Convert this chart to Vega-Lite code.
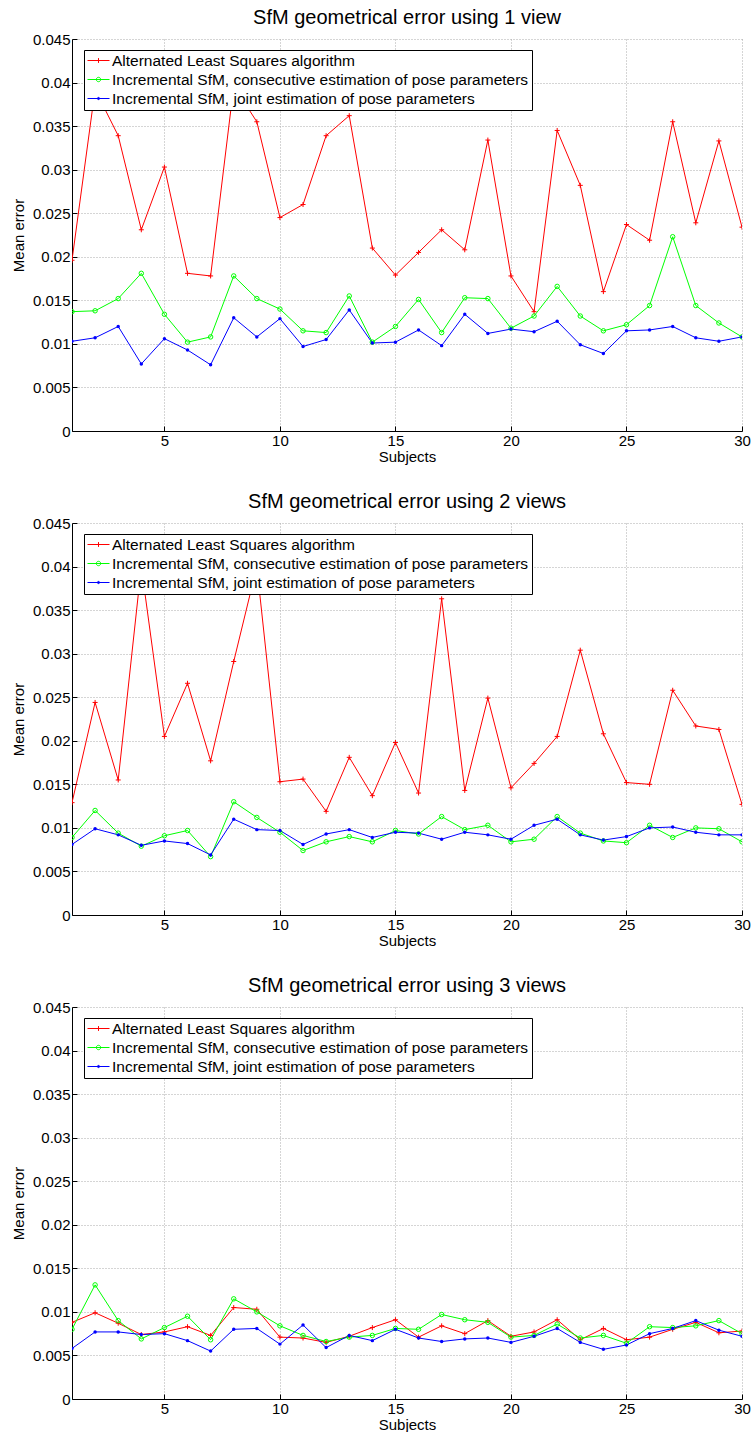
{
  "$schema": "https://vega.github.io/schema/vega-lite/v6.json",
  "padding": {"left": 11, "top": 8, "right": 0, "bottom": 0},
  "background": "white",
  "spacing": 28,
  "datasets": {
    "errors": [
      {"v":1,"s":1,"als":0.0196,"cons":0.0137,"joint":0.0103},
      {"v":1,"s":2,"als":0.0392,"cons":0.0138,"joint":0.0107},
      {"v":1,"s":3,"als":0.0339,"cons":0.0152,"joint":0.0120},
      {"v":1,"s":4,"als":0.0231,"cons":0.0181,"joint":0.0077},
      {"v":1,"s":5,"als":0.0303,"cons":0.0134,"joint":0.0106},
      {"v":1,"s":6,"als":0.0181,"cons":0.0102,"joint":0.0093},
      {"v":1,"s":7,"als":0.0178,"cons":0.0108,"joint":0.0076},
      {"v":1,"s":8,"als":0.0396,"cons":0.0178,"joint":0.0130},
      {"v":1,"s":9,"als":0.0355,"cons":0.0152,"joint":0.0108},
      {"v":1,"s":10,"als":0.0245,"cons":0.0140,"joint":0.0129},
      {"v":1,"s":11,"als":0.0260,"cons":0.0115,"joint":0.0097},
      {"v":1,"s":12,"als":0.0339,"cons":0.0113,"joint":0.0105},
      {"v":1,"s":13,"als":0.0362,"cons":0.0155,"joint":0.0139},
      {"v":1,"s":14,"als":0.0210,"cons":0.0102,"joint":0.0101},
      {"v":1,"s":15,"als":0.0179,"cons":0.0120,"joint":0.0102},
      {"v":1,"s":16,"als":0.0205,"cons":0.0151,"joint":0.0116},
      {"v":1,"s":17,"als":0.0231,"cons":0.0113,"joint":0.0098},
      {"v":1,"s":18,"als":0.0208,"cons":0.0153,"joint":0.0134},
      {"v":1,"s":19,"als":0.0334,"cons":0.0152,"joint":0.0112},
      {"v":1,"s":20,"als":0.0178,"cons":0.0118,"joint":0.0117},
      {"v":1,"s":21,"als":0.0137,"cons":0.0132,"joint":0.0114},
      {"v":1,"s":22,"als":0.0345,"cons":0.0166,"joint":0.0126},
      {"v":1,"s":23,"als":0.0282,"cons":0.0132,"joint":0.0099},
      {"v":1,"s":24,"als":0.0160,"cons":0.0115,"joint":0.0089},
      {"v":1,"s":25,"als":0.0237,"cons":0.0122,"joint":0.0115},
      {"v":1,"s":26,"als":0.0219,"cons":0.0144,"joint":0.0116},
      {"v":1,"s":27,"als":0.0355,"cons":0.0223,"joint":0.0120},
      {"v":1,"s":28,"als":0.0239,"cons":0.0144,"joint":0.0107},
      {"v":1,"s":29,"als":0.0333,"cons":0.0124,"joint":0.0103},
      {"v":1,"s":30,"als":0.0234,"cons":0.0108,"joint":0.0108},
      {"v":2,"s":1,"als":0.0129,"cons":0.0089,"joint":0.0081},
      {"v":2,"s":2,"als":0.0244,"cons":0.0120,"joint":0.0099},
      {"v":2,"s":3,"als":0.0155,"cons":0.0094,"joint":0.0092},
      {"v":2,"s":4,"als":0.0400,"cons":0.0079,"joint":0.0080},
      {"v":2,"s":5,"als":0.0205,"cons":0.0091,"joint":0.0085},
      {"v":2,"s":6,"als":0.0266,"cons":0.0097,"joint":0.0082},
      {"v":2,"s":7,"als":0.0177,"cons":0.0067,"joint":0.0069},
      {"v":2,"s":8,"als":0.0291,"cons":0.0130,"joint":0.0110},
      {"v":2,"s":9,"als":0.0400,"cons":0.0112,"joint":0.0098},
      {"v":2,"s":10,"als":0.0153,"cons":0.0095,"joint":0.0097},
      {"v":2,"s":11,"als":0.0156,"cons":0.0074,"joint":0.0081},
      {"v":2,"s":12,"als":0.0119,"cons":0.0084,"joint":0.0093},
      {"v":2,"s":13,"als":0.0181,"cons":0.0090,"joint":0.0098},
      {"v":2,"s":14,"als":0.0137,"cons":0.0084,"joint":0.0089},
      {"v":2,"s":15,"als":0.0198,"cons":0.0097,"joint":0.0095},
      {"v":2,"s":16,"als":0.0140,"cons":0.0093,"joint":0.0094},
      {"v":2,"s":17,"als":0.0363,"cons":0.0113,"joint":0.0087},
      {"v":2,"s":18,"als":0.0143,"cons":0.0098,"joint":0.0095},
      {"v":2,"s":19,"als":0.0249,"cons":0.0103,"joint":0.0092},
      {"v":2,"s":20,"als":0.0146,"cons":0.0084,"joint":0.0087},
      {"v":2,"s":21,"als":0.0174,"cons":0.0087,"joint":0.0103},
      {"v":2,"s":22,"als":0.0205,"cons":0.0113,"joint":0.0110},
      {"v":2,"s":23,"als":0.0304,"cons":0.0094,"joint":0.0092},
      {"v":2,"s":24,"als":0.0208,"cons":0.0085,"joint":0.0086},
      {"v":2,"s":25,"als":0.0152,"cons":0.0083,"joint":0.0090},
      {"v":2,"s":26,"als":0.0150,"cons":0.0103,"joint":0.0100},
      {"v":2,"s":27,"als":0.0258,"cons":0.0089,"joint":0.0101},
      {"v":2,"s":28,"als":0.0217,"cons":0.0100,"joint":0.0095},
      {"v":2,"s":29,"als":0.0213,"cons":0.0099,"joint":0.0092},
      {"v":2,"s":30,"als":0.0127,"cons":0.0084,"joint":0.0092},
      {"v":3,"s":1,"als":0.0088,"cons":0.0080,"joint":0.0058},
      {"v":3,"s":2,"als":0.0099,"cons":0.0131,"joint":0.0077},
      {"v":3,"s":3,"als":0.0087,"cons":0.0090,"joint":0.0077},
      {"v":3,"s":4,"als":0.0074,"cons":0.0069,"joint":0.0074},
      {"v":3,"s":5,"als":0.0077,"cons":0.0082,"joint":0.0075},
      {"v":3,"s":6,"als":0.0083,"cons":0.0095,"joint":0.0067},
      {"v":3,"s":7,"als":0.0073,"cons":0.0068,"joint":0.0055},
      {"v":3,"s":8,"als":0.0105,"cons":0.0115,"joint":0.0080},
      {"v":3,"s":9,"als":0.0103,"cons":0.0100,"joint":0.0081},
      {"v":3,"s":10,"als":0.0071,"cons":0.0084,"joint":0.0063},
      {"v":3,"s":11,"als":0.0070,"cons":0.0073,"joint":0.0085},
      {"v":3,"s":12,"als":0.0065,"cons":0.0066,"joint":0.0059},
      {"v":3,"s":13,"als":0.0072,"cons":0.0071,"joint":0.0073},
      {"v":3,"s":14,"als":0.0082,"cons":0.0073,"joint":0.0067},
      {"v":3,"s":15,"als":0.0091,"cons":0.0081,"joint":0.0080},
      {"v":3,"s":16,"als":0.0071,"cons":0.0080,"joint":0.0070},
      {"v":3,"s":17,"als":0.0084,"cons":0.0097,"joint":0.0066},
      {"v":3,"s":18,"als":0.0075,"cons":0.0091,"joint":0.0069},
      {"v":3,"s":19,"als":0.0090,"cons":0.0088,"joint":0.0070},
      {"v":3,"s":20,"als":0.0072,"cons":0.0071,"joint":0.0065},
      {"v":3,"s":21,"als":0.0077,"cons":0.0073,"joint":0.0072},
      {"v":3,"s":22,"als":0.0091,"cons":0.0086,"joint":0.0081},
      {"v":3,"s":23,"als":0.0068,"cons":0.0070,"joint":0.0065},
      {"v":3,"s":24,"als":0.0081,"cons":0.0073,"joint":0.0057},
      {"v":3,"s":25,"als":0.0068,"cons":0.0064,"joint":0.0062},
      {"v":3,"s":26,"als":0.0071,"cons":0.0083,"joint":0.0075},
      {"v":3,"s":27,"als":0.0080,"cons":0.0082,"joint":0.0081},
      {"v":3,"s":28,"als":0.0088,"cons":0.0084,"joint":0.0090},
      {"v":3,"s":29,"als":0.0076,"cons":0.0090,"joint":0.0079},
      {"v":3,"s":30,"als":0.0078,"cons":0.0075,"joint":0.0072}
    ]
  },
  "resolve": {"scale": {"color": "independent"}, "legend": {"color": "independent"}},
  "vconcat": [
    {
      "title": {"text": "SfM geometrical error using 1 view"},
      "width": 670, "height": 392,
      "data": {"name": "errors"},
      "transform": [{"filter": "datum.v == 1"}, {"fold": ["als", "cons", "joint"], "as": ["series", "value"]}],
      "encoding": {
        "x": {"field": "s", "type": "quantitative", "scale": {"domain": [1, 30], "nice": false, "zero": false}, "axis": {"title": "Subjects", "values": [5, 10, 15, 20, 25, 30]}},
        "y": {"field": "value", "type": "quantitative", "scale": {"domain": [0, 0.045], "nice": false}, "axis": {"title": "Mean error", "values": [0, 0.005, 0.01, 0.015, 0.02, 0.025, 0.03, 0.035, 0.04, 0.045], "format": "~g"}}
      },
      "layer": [
        {"mark": {"type": "line", "clip": true, "strokeWidth": 1},
         "encoding": {"color": {"field": "series", "type": "nominal", "scale": {"domain": ["als", "cons", "joint"], "range": ["#ff0000", "#00ff00", "#0000ff"]},
           "legend": {"title": null, "orient": "none", "legendX": 12, "legendY": 11, "symbolType": "stroke", "symbolStrokeWidth": 1, "symbolSize": 484, "clipHeight": 15, "fillColor": "white", "strokeColor": "black", "padding": 3, "rowPadding": 3, "labelOffset": 2, "labelFontSize": 15.5, "labelLimit": 600, "labelColor": "black",
             "labelExpr": "datum.label == 'als' ? 'Alternated Least Squares algorithm' : datum.label == 'cons' ? 'Incremental SfM, consecutive estimation of pose parameters' : 'Incremental SfM, joint estimation of pose parameters'",
             "encode": {"symbols": {"update": {
               "shape": {"signal": "datum.value == 'als' ? 'M-1,0H1M-0.22,0H0.22M0,-0.22V0.22' : datum.value == 'cons' ? 'M-1,0H1M0.2,0A0.2,0.2 0 1,1 -0.2,0A0.2,0.2 0 1,1 0.2,0' : 'M-1,0H1M0.1,0A0.1,0.1 0 1,1 -0.1,0A0.1,0.1 0 1,1 0.1,0'"},
               "stroke": {"signal": "datum.value == 'als' ? '#ff0000' : datum.value == 'cons' ? '#00ff00' : '#0000ff'"},
               "fill": {"signal": "datum.value == 'joint' ? '#0000ff' : 'transparent'"},
               "strokeWidth": {"value": 1}, "opacity": {"value": 1}}}}}}}},
        {"transform": [{"filter": "datum.series == 'als'"}], "mark": {"type": "point", "shape": "M-1,0H1M0,-1V1", "size": 25, "filled": false, "stroke": "#ff0000", "strokeWidth": 1, "opacity": 1, "clip": true}},
        {"transform": [{"filter": "datum.series == 'cons'"}], "mark": {"type": "point", "shape": "circle", "size": 20, "filled": false, "stroke": "#00ff00", "strokeWidth": 1, "opacity": 1, "clip": true}},
        {"transform": [{"filter": "datum.series == 'joint'"}], "mark": {"type": "point", "shape": "circle", "size": 12, "filled": true, "fill": "#0000ff", "opacity": 1, "clip": true}}
      ]
    },
    {
      "title": {"text": "SfM geometrical error using 2 views"},
      "width": 670, "height": 392,
      "data": {"name": "errors"},
      "transform": [{"filter": "datum.v == 2"}, {"fold": ["als", "cons", "joint"], "as": ["series", "value"]}],
      "encoding": {
        "x": {"field": "s", "type": "quantitative", "scale": {"domain": [1, 30], "nice": false, "zero": false}, "axis": {"title": "Subjects", "values": [5, 10, 15, 20, 25, 30]}},
        "y": {"field": "value", "type": "quantitative", "scale": {"domain": [0, 0.045], "nice": false}, "axis": {"title": "Mean error", "values": [0, 0.005, 0.01, 0.015, 0.02, 0.025, 0.03, 0.035, 0.04, 0.045], "format": "~g"}}
      },
      "layer": [
        {"mark": {"type": "line", "clip": true, "strokeWidth": 1},
         "encoding": {"color": {"field": "series", "type": "nominal", "scale": {"domain": ["als", "cons", "joint"], "range": ["#ff0000", "#00ff00", "#0000ff"]},
           "legend": {"title": null, "orient": "none", "legendX": 12, "legendY": 11, "symbolType": "stroke", "symbolStrokeWidth": 1, "symbolSize": 484, "clipHeight": 15, "fillColor": "white", "strokeColor": "black", "padding": 3, "rowPadding": 3, "labelOffset": 2, "labelFontSize": 15.5, "labelLimit": 600, "labelColor": "black",
             "labelExpr": "datum.label == 'als' ? 'Alternated Least Squares algorithm' : datum.label == 'cons' ? 'Incremental SfM, consecutive estimation of pose parameters' : 'Incremental SfM, joint estimation of pose parameters'",
             "encode": {"symbols": {"update": {
               "shape": {"signal": "datum.value == 'als' ? 'M-1,0H1M-0.22,0H0.22M0,-0.22V0.22' : datum.value == 'cons' ? 'M-1,0H1M0.2,0A0.2,0.2 0 1,1 -0.2,0A0.2,0.2 0 1,1 0.2,0' : 'M-1,0H1M0.1,0A0.1,0.1 0 1,1 -0.1,0A0.1,0.1 0 1,1 0.1,0'"},
               "stroke": {"signal": "datum.value == 'als' ? '#ff0000' : datum.value == 'cons' ? '#00ff00' : '#0000ff'"},
               "fill": {"signal": "datum.value == 'joint' ? '#0000ff' : 'transparent'"},
               "strokeWidth": {"value": 1}, "opacity": {"value": 1}}}}}}}},
        {"transform": [{"filter": "datum.series == 'als'"}], "mark": {"type": "point", "shape": "M-1,0H1M0,-1V1", "size": 25, "filled": false, "stroke": "#ff0000", "strokeWidth": 1, "opacity": 1, "clip": true}},
        {"transform": [{"filter": "datum.series == 'cons'"}], "mark": {"type": "point", "shape": "circle", "size": 20, "filled": false, "stroke": "#00ff00", "strokeWidth": 1, "opacity": 1, "clip": true}},
        {"transform": [{"filter": "datum.series == 'joint'"}], "mark": {"type": "point", "shape": "circle", "size": 12, "filled": true, "fill": "#0000ff", "opacity": 1, "clip": true}}
      ]
    },
    {
      "title": {"text": "SfM geometrical error using 3 views"},
      "width": 670, "height": 392,
      "data": {"name": "errors"},
      "transform": [{"filter": "datum.v == 3"}, {"fold": ["als", "cons", "joint"], "as": ["series", "value"]}],
      "encoding": {
        "x": {"field": "s", "type": "quantitative", "scale": {"domain": [1, 30], "nice": false, "zero": false}, "axis": {"title": "Subjects", "values": [5, 10, 15, 20, 25, 30]}},
        "y": {"field": "value", "type": "quantitative", "scale": {"domain": [0, 0.045], "nice": false}, "axis": {"title": "Mean error", "values": [0, 0.005, 0.01, 0.015, 0.02, 0.025, 0.03, 0.035, 0.04, 0.045], "format": "~g"}}
      },
      "layer": [
        {"mark": {"type": "line", "clip": true, "strokeWidth": 1},
         "encoding": {"color": {"field": "series", "type": "nominal", "scale": {"domain": ["als", "cons", "joint"], "range": ["#ff0000", "#00ff00", "#0000ff"]},
           "legend": {"title": null, "orient": "none", "legendX": 12, "legendY": 11, "symbolType": "stroke", "symbolStrokeWidth": 1, "symbolSize": 484, "clipHeight": 15, "fillColor": "white", "strokeColor": "black", "padding": 3, "rowPadding": 3, "labelOffset": 2, "labelFontSize": 15.5, "labelLimit": 600, "labelColor": "black",
             "labelExpr": "datum.label == 'als' ? 'Alternated Least Squares algorithm' : datum.label == 'cons' ? 'Incremental SfM, consecutive estimation of pose parameters' : 'Incremental SfM, joint estimation of pose parameters'",
             "encode": {"symbols": {"update": {
               "shape": {"signal": "datum.value == 'als' ? 'M-1,0H1M-0.22,0H0.22M0,-0.22V0.22' : datum.value == 'cons' ? 'M-1,0H1M0.2,0A0.2,0.2 0 1,1 -0.2,0A0.2,0.2 0 1,1 0.2,0' : 'M-1,0H1M0.1,0A0.1,0.1 0 1,1 -0.1,0A0.1,0.1 0 1,1 0.1,0'"},
               "stroke": {"signal": "datum.value == 'als' ? '#ff0000' : datum.value == 'cons' ? '#00ff00' : '#0000ff'"},
               "fill": {"signal": "datum.value == 'joint' ? '#0000ff' : 'transparent'"},
               "strokeWidth": {"value": 1}, "opacity": {"value": 1}}}}}}}},
        {"transform": [{"filter": "datum.series == 'als'"}], "mark": {"type": "point", "shape": "M-1,0H1M0,-1V1", "size": 25, "filled": false, "stroke": "#ff0000", "strokeWidth": 1, "opacity": 1, "clip": true}},
        {"transform": [{"filter": "datum.series == 'cons'"}], "mark": {"type": "point", "shape": "circle", "size": 20, "filled": false, "stroke": "#00ff00", "strokeWidth": 1, "opacity": 1, "clip": true}},
        {"transform": [{"filter": "datum.series == 'joint'"}], "mark": {"type": "point", "shape": "circle", "size": 12, "filled": true, "fill": "#0000ff", "opacity": 1, "clip": true}}
      ]
    }
  ],
  "config": {
    "font": "Liberation Sans",
    "view": {"stroke": null},
    "title": {"fontSize": 20, "fontWeight": "normal", "color": "black", "anchor": "middle", "frame": "group", "baseline": "alphabetic", "offset": 4},
    "axis": {
      "labelFontSize": 15, "titleFontSize": 15, "titleFontWeight": "normal",
      "labelColor": "black", "titleColor": "black",
      "domainColor": "black", "domainWidth": 1,
      "tickColor": "black", "tickSize": -5, "tickWidth": 1,
      "gridColor": "#aaaaaa", "gridDash": [1, 2], "gridWidth": 1,
      "labelFlush": false, "labelOverlap": false
    },
    "axisX": {"labelPadding": 7, "titlePadding": 1},
    "axisY": {"labelPadding": 7, "titlePadding": 6}
  }
}
